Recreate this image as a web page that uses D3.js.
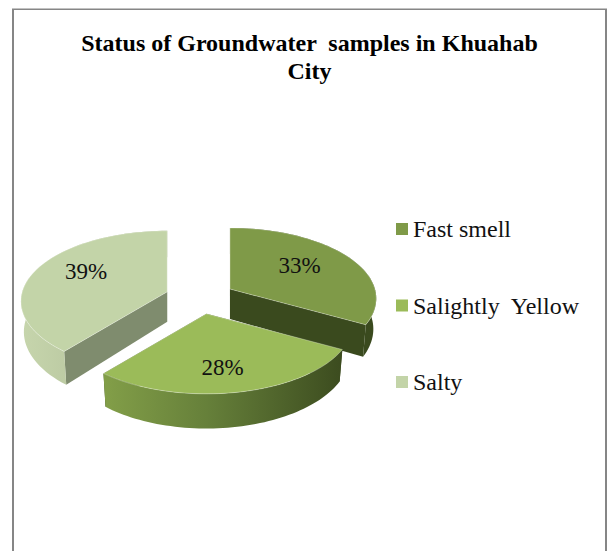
<!DOCTYPE html>
<html>
<head>
<meta charset="utf-8">
<script src="https://cdn.jsdelivr.net/npm/d3@7"></script>
<style>
  html, body { margin: 0; background: #fff; }
  text { font-family: "Liberation Serif", serif; fill: #111; white-space: pre; }
</style>
</head>
<body>
<svg id="chart" width="608" height="551" style="display:block"></svg>
<script>
const titleLines = ['Status of Groundwater  samples in Khuahab', 'City']
const categories = ['Fast smell', 'Salightly  Yellow', 'Salty']
const percents = [33, 28, 39]

const topColors = ['#7f9a48', '#9bbb59', '#c3d4a8']
const cutColors = ['#3a4a1e', '#3a4a1e', '#7f8c6e']
const wallStops = [
  ['#3a4a1e', '#3a4a1e', '#3a4a1e'],
  ['#8eab4e', '#66803a', '#39481d'],
  ['#c6d5ac', '#a9b692', '#8a9678']
]
const labelRadius = [0.58, 0.7, 0.62]
const labelNudge = [[0, 4], [-5, 9], [1, 1]]

const svg = d3.select('#chart')

// perspective projection of the tilted disc, angle 0 is the back of the disc
const cx = 200, cy = 297.5, rx = 145, ry = 69.3, tilt = 0.134, depth = 30, explode = 0.24

function project(angle, r) {
  const u = Math.sin(angle) * r
  const v = Math.cos(angle) * r
  const s = 1 / (1 + tilt * v)
  return { x: rx * u * s, y: -ry * v * s, s: s }
}

const pie = d3.pie().sort(null).value((d) => d)
const arcs = pie(percents)
const line = d3.line()

const defs = svg.append('defs')

// frame: no bottom edge in the picture, sides run off the page
svg.append('path')
  .attr('d', 'M13 551 V9.5 H606 V551')
  .attr('fill', 'none')
  .attr('stroke', '#868686')
  .attr('stroke-width', 2)
svg.append('rect').attr('x', 14).attr('y', 10).attr('width', 591).attr('height', 1).attr('fill', '#fff')

svg.selectAll('text.title')
  .data(titleLines)
  .enter()
  .append('text')
  .attr('class', 'title')
  .attr('x', 309.5)
  .attr('y', (d, i) => 51 + i * 28)
  .attr('text-anchor', 'middle')
  .attr('font-size', 24)
  .attr('font-weight', 'bold')
  .style('fill', '#000')
  .text((d) => d)

function drawSlice(arc, i) {
  const mid = (arc.startAngle + arc.endAngle) / 2
  const ox = cx + rx * explode * Math.sin(mid)
  const oy = cy - ry * explode * Math.cos(mid)
  const g = svg.append('g').attr('transform', `translate(${ox},${oy})`)

  const angles = d3.range(0, 61).map((k) => arc.startAngle + (arc.endAngle - arc.startAngle) * k / 60)
  const rim = angles.map((a) => project(a, 1))
  const centre = project(0, 0)
  const down = (p) => [p.x * 0.98, p.y + depth * p.s]
  const flat = (p) => [p.x, p.y]

  const grad = defs.append('linearGradient')
    .attr('id', `wall_${i}`)
    .attr('gradientUnits', 'userSpaceOnUse')
    .attr('x1', -rx).attr('x2', rx).attr('y1', 0).attr('y2', 0)
  wallStops[i].forEach((c, k) => {
    grad.append('stop').attr('offset', `${k * 50}%`).attr('stop-color', c)
  })

  // cut walls
  for (const p of [rim[0], rim[rim.length - 1]]) {
    g.append('path')
      .attr('d', line([flat(centre), flat(p), down(p), down(centre)]) + 'Z')
      .attr('fill', cutColors[i])
  }

  // outer wall
  g.append('path')
    .attr('d', line(rim.map(flat).concat(rim.slice().reverse().map(down))) + 'Z')
    .attr('fill', `url(#wall_${i})`)

  // top
  g.append('path')
    .attr('d', line([flat(centre)].concat(rim.map(flat))) + 'Z')
    .attr('fill', topColors[i])
    .attr('stroke', '#fff')
    .attr('stroke-opacity', 0.5)
    .attr('stroke-width', 0.6)

  const lp = project(mid, labelRadius[i])
  g.append('text')
    .attr('x', lp.x + labelNudge[i][0])
    .attr('y', lp.y + labelNudge[i][1])
    .attr('text-anchor', 'middle')
    .attr('font-size', 23)
    .text(`${percents[i]}%`)
}

// back to front
;[0, 2, 1].forEach((i) => drawSlice(arcs[i], i))

const legendY = d3.scalePoint().domain(categories).range([229, 382])

const legend = svg.selectAll('g.legend')
  .data(categories)
  .enter()
  .append('g')
  .attr('class', 'legend')
  .attr('transform', (d) => `translate(396,${legendY(d)})`)

legend.append('rect')
  .attr('y', -6).attr('width', 12).attr('height', 12)
  .attr('fill', (d, i) => topColors[i])

legend.append('text')
  .attr('x', 17)
  .attr('y', 8)
  .attr('font-size', 24)
  .text((d) => d)
</script>
</body>
</html>
